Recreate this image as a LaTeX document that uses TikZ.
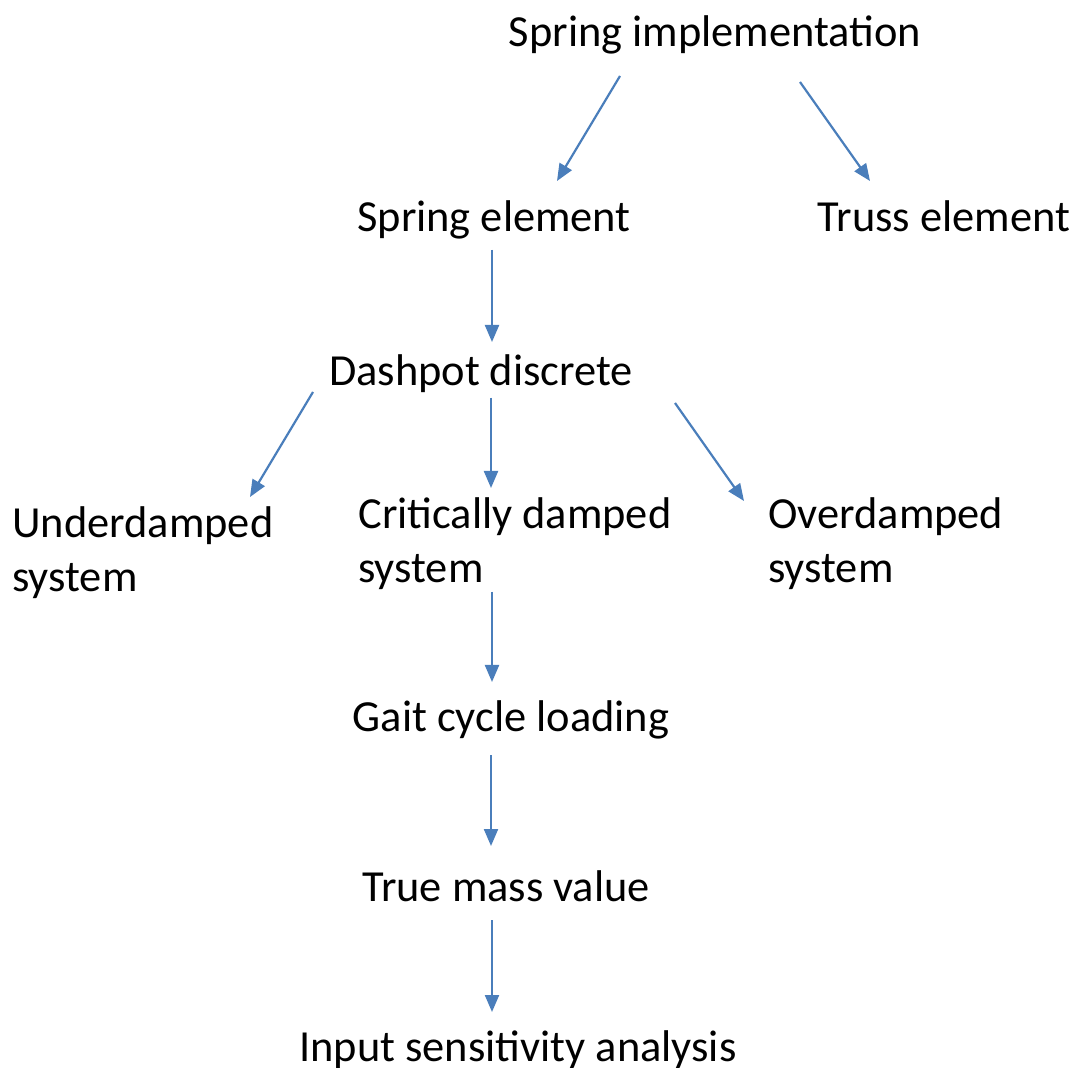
\documentclass[tikz,border=0pt]{standalone}
\usepackage{fontspec}
\setmainfont{Carlito}
\usetikzlibrary{arrows.meta}
\definecolor{linkblue}{HTML}{4A7EBB}
\tikzset{>={Triangle[length=8.5pt,width=7pt]}}
\tikzset{
    lbl/.style={inner sep=0pt, anchor=base, font=\fontsize{22.2}{27}\selectfont},
    lbll/.style={lbl, anchor=base west, align=left},
    link/.style={->, draw=linkblue, fill=linkblue, line width=1.1pt}
}

\begin{document}
\begin{tikzpicture}[x=0.5pt,y=-0.5pt]
            \useasboundingbox (0,0) rectangle (1081,1068);

            % labels (two-line ones sit on the baseline of their last line)
            \node[lbl] (impl) at (715,47) {Spring implementation};
            \node[lbl] (spring) at (494,232) {Spring element};
            \node[lbl] (truss) at (944,232) {Truss element};
            \node[lbl] (dash) at (481,386) {Dashpot discrete};
            \node[lbll] (under) at (12,592) {Underdamped\\system};
            \node[lbll] (crit) at (358,583) {Critically damped\\system};
            \node[lbll] (over) at (768,583) {Overdamped\\system};
            \node[lbl] (gait) at (511,732) {Gait cycle loading};
            \node[lbl] (mass) at (506,901) {True mass value};
            \node[lbl] (input) at (518,1061) {Input sensitivity analysis};

            % arrow ends
            \coordinate (impl-l) at (620,76);
            \coordinate (impl-r) at (800,82);
            \coordinate (spring-t) at (557,181);
            \coordinate (truss-t) at (870,181);
            \coordinate (spring-b) at (492,250);
            \coordinate (dash-t) at (492,342);
            \coordinate (dash-l) at (313,392);
            \coordinate (dash-b) at (491,398);
            \coordinate (dash-r) at (675,403);
            \coordinate (under-t) at (250,497);
            \coordinate (crit-t) at (491,488);
            \coordinate (over-t) at (744,501);
            \coordinate (crit-b) at (492,592);
            \coordinate (gait-t) at (492,682);
            \coordinate (gait-b) at (491,755);
            \coordinate (mass-t) at (491,846);
            \coordinate (mass-b) at (492,920);
            \coordinate (input-t) at (492,1012);

            \path
                (impl-l) edge[link] (spring-t)
                (impl-r) edge[link] (truss-t)
                (spring-b) edge[link] (dash-t)
                (dash-l) edge[link] (under-t)
                (dash-b) edge[link] (crit-t)
                (dash-r) edge[link] (over-t)
                (crit-b) edge[link] (gait-t)
                (gait-b) edge[link] (mass-t)
                (mass-b) edge[link] (input-t);
        \end{tikzpicture}
\end{document}
